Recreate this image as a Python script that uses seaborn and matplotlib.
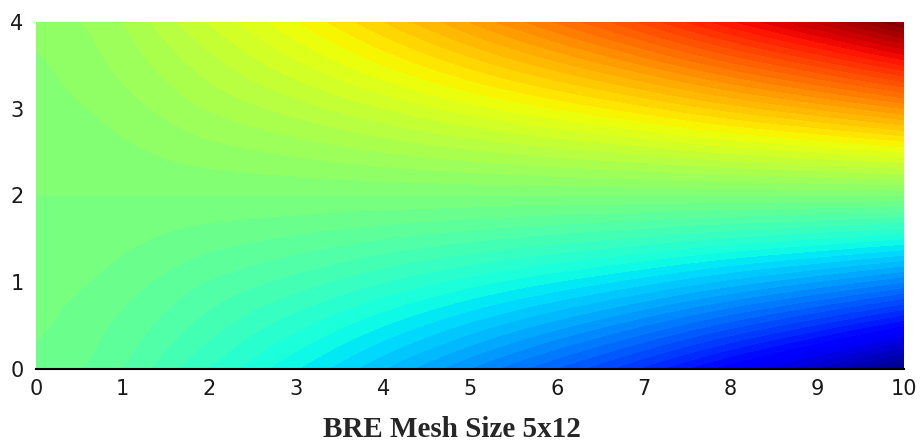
import numpy as np
import matplotlib
matplotlib.use("Agg")
import matplotlib.pyplot as plt
import matplotlib.tri as mtri
import seaborn as sns

# Mesh nodes (x along the beam, y across the depth)
x_nodes = [0.0, 0.833, 1.667, 2.5, 3.333, 4.167, 5.0, 5.833, 6.667, 7.5, 8.333, 9.167, 10.0]
y_nodes = [0.0, 1.0, 2.0, 3.0, 4.0]

# Normalised stress read at the nodes, one row per y node (bottom to top)
stress_y0 = [-0.045, -0.08, -0.16, -0.235, -0.31, -0.39, -0.47, -0.55, -0.63, -0.72, -0.81, -0.90, -1.00]
stress_y1 = [-0.015, -0.04, -0.08, -0.118, -0.155, -0.195, -0.235, -0.275, -0.315, -0.36, -0.405, -0.45, -0.50]
stress_y2 = [0.0, 0.0, 0.0, 0.0, 0.0, 0.0, 0.0, 0.0, 0.0, 0.0, 0.0, 0.0, 0.0]
stress_y3 = [0.015, 0.04, 0.08, 0.118, 0.155, 0.195, 0.235, 0.275, 0.315, 0.36, 0.405, 0.45, 0.50]
stress_y4 = [0.045, 0.08, 0.16, 0.235, 0.31, 0.39, 0.47, 0.55, 0.63, 0.72, 0.81, 0.90, 1.00]

x_ticks = [0, 1, 2, 3, 4, 5, 6, 7, 8, 9, 10]
y_ticks = [0, 1, 2, 3, 4]
title = "BRE Mesh Size 5x12"

sns.set_style("white")
plt.rcParams["font.family"] = ["DejaVu Sans"]

Z = np.array([stress_y0, stress_y1, stress_y2, stress_y3, stress_y4])
X, Y = np.meshgrid(np.array(x_nodes), np.array(y_nodes))

tri = mtri.Triangulation(X.ravel(), Y.ravel())
refiner = mtri.UniformTriRefiner(tri)
tri_f, z_f = refiner.refine_field(Z.ravel(), subdiv=4)

fig = plt.figure(figsize=(9.23, 4.46), dpi=100)
ax = fig.add_axes([36 / 923, 1 - 369 / 446, 868 / 923, 347 / 446])

levels = np.linspace(-1, 1, 65)
ax.tricontourf(tri_f, z_f, levels=levels, cmap="jet", vmin=-1, vmax=1, extend="both")

ax.set_xlim(0, 10)
ax.set_ylim(0, 4)
ax.set_xticks(x_ticks)
ax.set_yticks(y_ticks)
ax.tick_params(axis="both", length=0, labelsize=15, colors="#1a1a1a")
ax.tick_params(axis="x", pad=7)
ax.tick_params(axis="y", pad=9)
for side in ["top", "right", "left"]:
    ax.spines[side].set_visible(False)
ax.spines["bottom"].set_color("black")
ax.spines["bottom"].set_linewidth(1.5)

fig.text(452 / 923, 1 - 437 / 446, title, ha="center", va="baseline",
         fontsize=21, fontweight="bold", family=["Liberation Serif", "DejaVu Serif"])

fig.savefig("out.png", dpi=100)
